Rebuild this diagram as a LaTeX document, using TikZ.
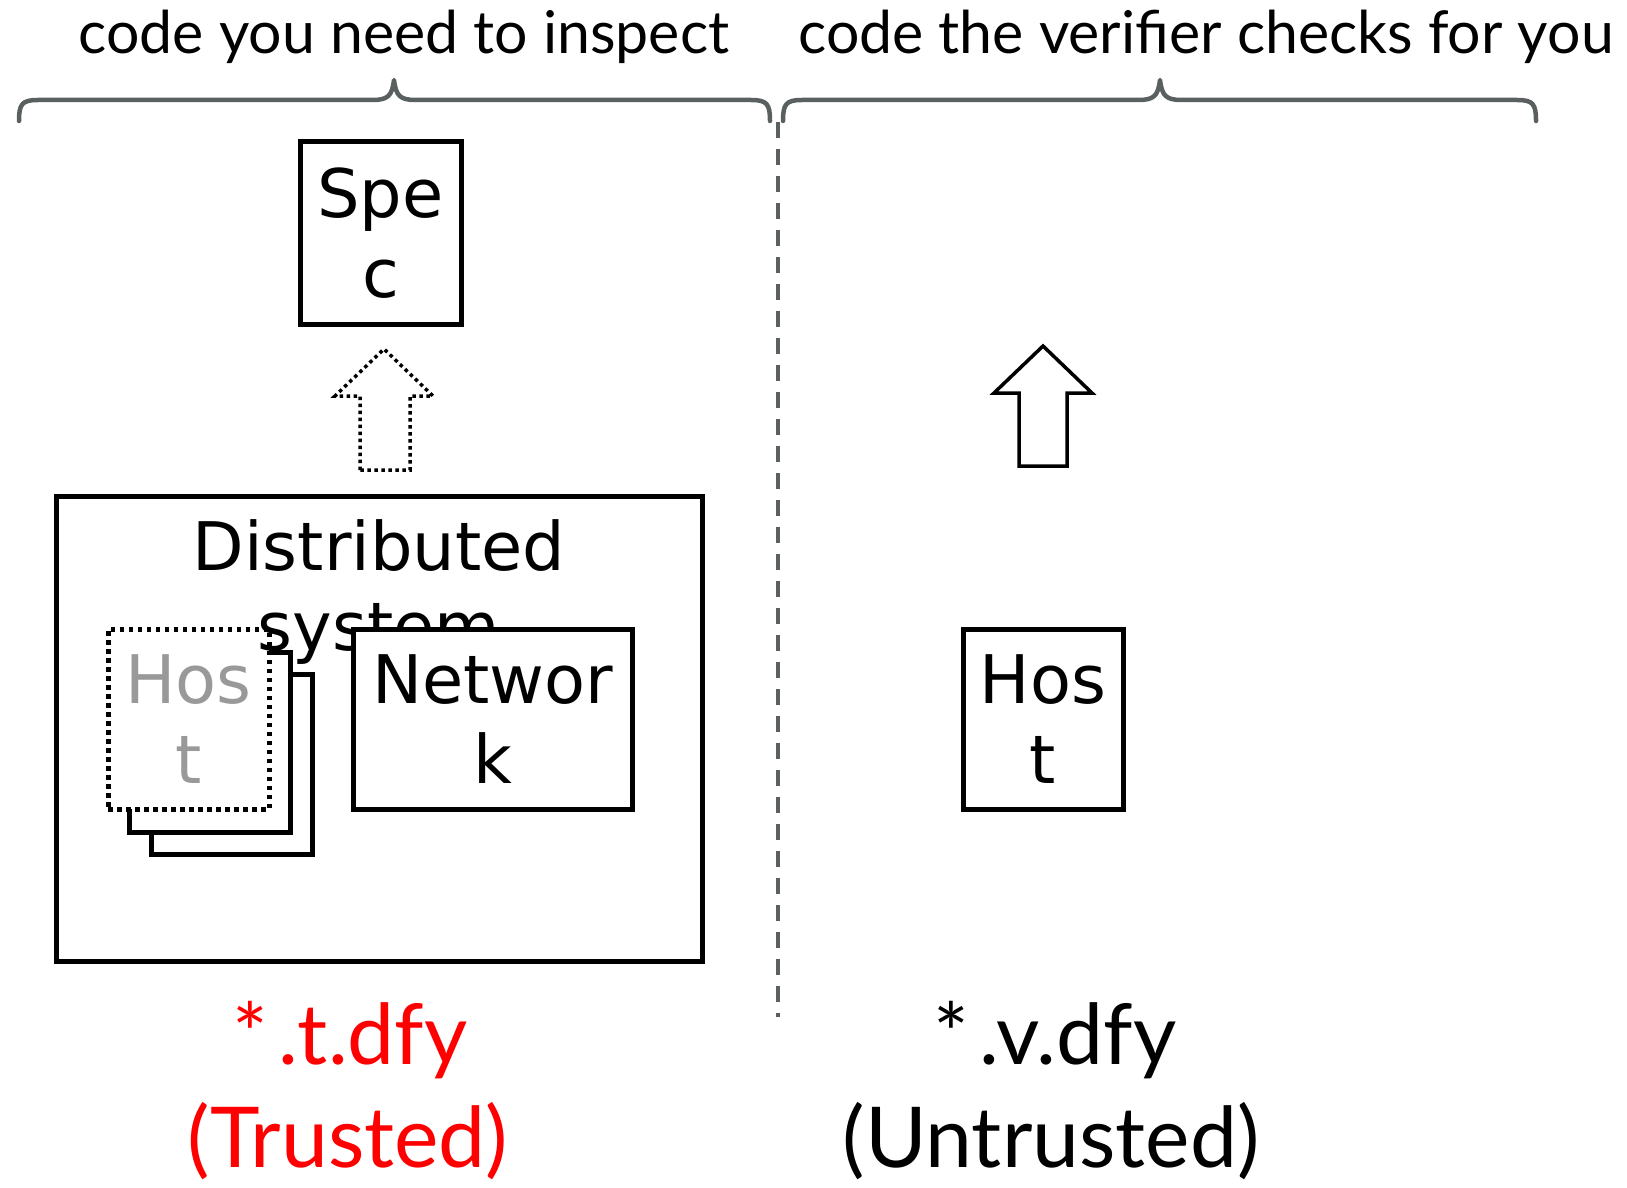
\documentclass[tikz,border=0pt]{standalone}
\usepackage{fontspec}
\setmainfont{Lato}
\newfontfamily\boxfont{DejaVu Sans}
\definecolor{bracegray}{HTML}{5A6060}
\definecolor{hostgray}{HTML}{999999}
\definecolor{trustred}{HTML}{FF0000}
\begin{document}
\begin{tikzpicture}[x=1pt,y=-1pt,
  box/.style={draw, line width=5pt, fill=white, inner sep=0pt, align=center,
    font={\boxfont\fontsize{67}{80}\selectfont}},
  hostbox/.style={box, minimum width=161pt, minimum height=180pt},
  heading/.style={anchor=base, inner sep=0pt, font={\fontsize{59}{70}\selectfont}},
  filelabel/.style={anchor=base, inner sep=0pt, font={\fontsize{84}{96}\selectfont}},
  brace/.style={draw=bracegray, line width=4.5pt, line cap=round, line join=round},
  blockarrow/.style={draw, line width=3.5pt, fill=white, line join=miter}
]
\useasboundingbox (0,0) rectangle (1627,1188);

% headings and braces
\node[heading] (trustedhead) at (404,54) {code you need to inspect};
\node[heading] (checkedhead) at (1206,54) {code the verifier checks for you};
\draw[brace] (19,121) .. controls (19,104) and (22,100) .. (38,100) -- (372,100)
  .. controls (388,100) and (392,96) .. (394,80)
  .. controls (396,96) and (400,100) .. (416,100) -- (751,100)
  .. controls (767,100) and (770,104) .. (770,121);
\draw[brace] (783,121) .. controls (783,104) and (786,100) .. (802,100) -- (1138,100)
  .. controls (1154,100) and (1158,96) .. (1160,80)
  .. controls (1162,96) and (1166,100) .. (1182,100) -- (1517,100)
  .. controls (1533,100) and (1536,104) .. (1536,121);

% divider
\coordinate (divtop) at (778,122);
\coordinate (divbot) at (778,1017);
\draw[bracegray, line width=3.5pt, dash pattern=on 16pt off 11pt] (divtop) -- (divbot);

% trusted side
\node[box, minimum width=161pt, minimum height=182pt] (spec) at (380.5,233) {Spe\\c};
\draw[blockarrow, dash pattern=on 3.5pt off 3.5pt]
  (360,470) -- (360,396) -- (335,396) -- (384,349) -- (433,396) -- (410,396) -- (410,470) -- cycle;

\node[draw, line width=5pt, inner sep=0pt, minimum width=646pt, minimum height=465pt] (dist) at (379,728.5) {};
\node[hostbox] (hostc) at (232,764.5) {};
\node[hostbox] (hostb) at (210,742) {};
\node[hostbox, dash pattern=on 4.5pt off 4.5pt, text=hostgray] (hosta) at (188.5,719) {Hos\\t};
\node[anchor=north, inner sep=0pt, align=center,
  font={\boxfont\fontsize{67}{80}\selectfont}] (distlabel) at (379,519) {Distributed\\system};
\node[box, minimum width=279pt, minimum height=180pt] (network) at (492.5,719) {Networ\\k};

% untrusted side
\draw[blockarrow]
  (1019,466) -- (1019,393) -- (994,393) -- (1043,346) -- (1092,393) -- (1067,393) -- (1067,466) -- cycle;
\node[hostbox, minimum width=160pt] (host) at (1043,719) {Hos\\t};

% file labels
\node[filelabel, text=trustred] (tfile) at (350,1064) {*\kern0.12em.t.dfy};
\node[filelabel, text=trustred] (tnote) at (348,1167) {(Trusted)};
\node[filelabel] (vfile) at (1055,1064) {*\kern0.12em.v.dfy};
\node[filelabel] (vnote) at (1051,1167) {(Untrusted)};
\end{tikzpicture}
\end{document}
